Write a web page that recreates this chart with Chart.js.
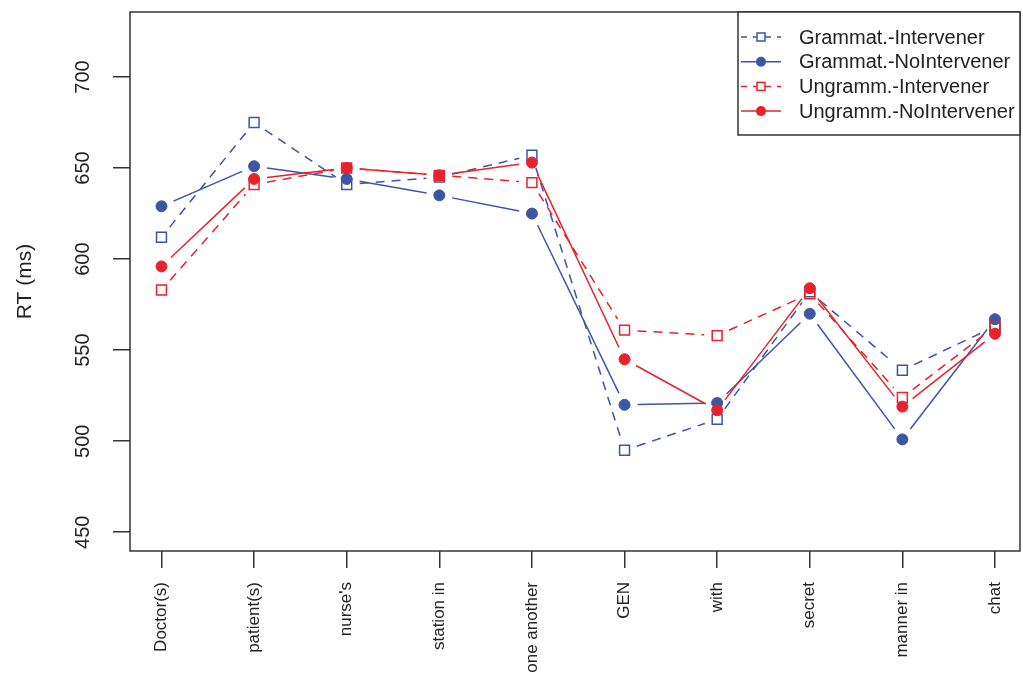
<!DOCTYPE html>
<html>
<head>
    <title>RT by region</title>
    <script src="https://cdn.jsdelivr.net/npm/chart.js"></script>
    <style>
        html, body { margin: 0; padding: 0; background: #fff; }
        #wrap { width: 1023px; height: 677px; }
    </style>
</head>
<body>
    <div id="wrap"><canvas id="rtChart" width="1023" height="677"></canvas></div>
    <script>
        // regions (x axis) and mean RTs per condition
        const regions = ["Doctor(s)", "patient(s)", "nurse's", "station in", "one another", "GEN", "with", "secret", "manner in", "chat"];
        const grammatInt = [612, 675, 641, 645, 657, 495, 512, 582, 539, 563];
        const grammatNoInt = [629, 651, 644, 635, 625, 520, 521, 570, 501, 567];
        const ungrammInt = [583, 641, 650, 646, 642, 561, 558, 581, 524, 563];
        const ungrammNoInt = [596, 644, 650, 646, 653, 545, 517, 584, 519, 559];
        const yTicks = [450, 500, 550, 600, 650, 700];

        const BLUE = '#3d55a3';
        const RED = '#e8212b';
        const INK = '#333333';
        const FONT = '"Liberation Sans", Arial, sans-serif';

        const toPoints = vals => vals.map((v, i) => ({ x: i + 1, y: v }));

        function series(label, vals, color, dashed, order) {
            return {
                label: label,
                data: toPoints(vals),
                showLine: false, // segments drawn by gapLines plugin (R type="b")
                borderColor: color,
                borderWidth: 1.5,
                borderDash: dashed ? [9, 7] : [],
                pointStyle: dashed ? 'rect' : 'circle',
                pointRadius: dashed ? 7 : 5.5,
                pointBorderWidth: dashed ? 1.5 : 1,
                pointBorderColor: color,
                pointBackgroundColor: dashed ? 'rgba(0,0,0,0)' : color,
                order: order,
            };
        }

        // lines between points with a gap round each point, like R's type="b"
        const gapLines = {
            id: 'gapLines',
            beforeDatasetsDraw(chart) {
                const ctx = chart.ctx;
                const gap = 13;
                chart.data.datasets.forEach((ds, di) => {
                    const pts = chart.getDatasetMeta(di).data;
                    ctx.save();
                    ctx.strokeStyle = ds.borderColor;
                    ctx.lineWidth = ds.borderWidth;
                    for (let i = 0; i < pts.length - 1; i++) {
                        const a = pts[i], b = pts[i + 1];
                        const dx = b.x - a.x, dy = b.y - a.y;
                        const len = Math.hypot(dx, dy);
                        if (len <= 2 * gap) continue;
                        const ux = dx / len, uy = dy / len;
                        ctx.setLineDash(ds.borderDash);
                        ctx.beginPath();
                        ctx.moveTo(a.x + ux * gap, a.y + uy * gap);
                        ctx.lineTo(b.x - ux * gap, b.y - uy * gap);
                        ctx.stroke();
                    }
                    ctx.restore();
                });
            }
        };

        // plot box like R's box()
        const boxPlugin = {
            id: 'box',
            afterDraw(chart) {
                const a = chart.chartArea;
                const ctx = chart.ctx;
                ctx.save();
                ctx.strokeStyle = INK;
                ctx.lineWidth = 1.5;
                ctx.strokeRect(a.left, a.top, a.right - a.left, a.bottom - a.top);
                ctx.restore();
            }
        };

        // vertical y tick labels (reading upward)
        const yLabelPlugin = {
            id: 'yLabels',
            afterDraw(chart) {
                const y = chart.scales.y;
                const ctx = chart.ctx;
                ctx.save();
                ctx.fillStyle = '#222';
                ctx.font = '20px ' + FONT;
                ctx.textAlign = 'center';
                ctx.textBaseline = 'middle';
                yTicks.forEach(v => {
                    ctx.save();
                    ctx.translate(83, y.getPixelForValue(v));
                    ctx.rotate(-Math.PI / 2);
                    ctx.fillText(String(v), 0, 0);
                    ctx.restore();
                });
                ctx.restore();
            }
        };

        // R style legend box: line sample + marker + text
        const legendPlugin = {
            id: 'rLegend',
            afterDraw(chart) {
                const a = chart.chartArea;
                const ctx = chart.ctx;
                const w = 282, h = 123;
                const x0 = a.right - w, y0 = a.top;
                ctx.save();
                ctx.fillStyle = '#fff';
                ctx.fillRect(x0, y0, w, h);
                ctx.strokeStyle = INK;
                ctx.lineWidth = 1.5;
                ctx.strokeRect(x0, y0, w, h);
                chart.data.datasets.forEach((ds, i) => {
                    const cy = y0 + 25 + i * 24.7;
                    const mx = x0 + 23;
                    ctx.strokeStyle = ds.borderColor;
                    ctx.lineWidth = 1.5;
                    ctx.setLineDash(ds.borderDash.length ? [6, 6] : []);
                    ctx.beginPath();
                    ctx.moveTo(x0 + 3, cy);
                    ctx.lineTo(x0 + 43, cy);
                    ctx.stroke();
                    ctx.setLineDash([]);
                    ctx.strokeStyle = ds.pointBorderColor;
                    if (ds.pointStyle === 'circle') {
                        ctx.fillStyle = ds.pointBackgroundColor;
                        ctx.beginPath();
                        ctx.arc(mx, cy, 5, 0, Math.PI * 2);
                        ctx.fill();
                    } else {
                        const s = 4;
                        ctx.fillStyle = '#fff';
                        ctx.fillRect(mx - s, cy - s, 2 * s, 2 * s);
                        ctx.strokeRect(mx - s, cy - s, 2 * s, 2 * s);
                    }
                    ctx.fillStyle = '#222';
                    ctx.font = '20px ' + FONT;
                    ctx.textAlign = 'left';
                    ctx.textBaseline = 'middle';
                    ctx.fillText(ds.label, x0 + 61, cy + 1);
                });
                ctx.restore();
            }
        };

        new Chart(document.getElementById('rtChart').getContext('2d'), {
            type: 'line',
            data: {
                datasets: [
                    series('Grammat.-Intervener', grammatInt, BLUE, true, 3),
                    series('Grammat.-NoIntervener', grammatNoInt, BLUE, false, 2),
                    series('Ungramm.-Intervener', ungrammInt, RED, true, 1),
                    series('Ungramm.-NoIntervener', ungrammNoInt, RED, false, 0),
                ],
            },
            options: {
                responsive: false,
                animation: false,
                layout: { autoPadding: false, padding: { top: 12, right: 3, left: 0, bottom: 0 } },
                plugins: {
                    legend: { display: false },
                    tooltip: { enabled: false },
                },
                scales: {
                    x: {
                        type: 'linear',
                        min: 0.66,
                        max: 10.27,
                        afterBuildTicks: s => { s.ticks = regions.map((r, i) => ({ value: i + 1 })); },
                        afterFit: s => { s.height = 126; s.paddingLeft = 0; s.paddingRight = 0; },
                        border: { display: false },
                        grid: { drawOnChartArea: false, drawTicks: true, tickLength: 17, color: INK, lineWidth: 1.5 },
                        ticks: {
                            autoSkip: false,
                            minRotation: 90,
                            maxRotation: 90,
                            padding: 14,
                            color: '#222',
                            font: { family: FONT, size: 17 },
                            callback: v => regions[v - 1],
                        },
                    },
                    y: {
                        min: 439.7,
                        max: 735.7,
                        afterBuildTicks: s => { s.ticks = yTicks.map(v => ({ value: v })); },
                        afterFit: s => { s.width = 130; s.paddingTop = 0; s.paddingBottom = 0; },
                        border: { display: false },
                        grid: { drawOnChartArea: false, drawTicks: true, tickLength: 17, color: INK, lineWidth: 1.5 },
                        ticks: { display: false },
                        title: {
                            display: true,
                            text: 'RT (ms)',
                            color: '#222',
                            font: { family: FONT, size: 21 },
                            padding: { top: 13, bottom: 0 },
                        },
                    },
                },
            },
            plugins: [gapLines, boxPlugin, yLabelPlugin, legendPlugin],
        });
    </script>
</body>
</html>
